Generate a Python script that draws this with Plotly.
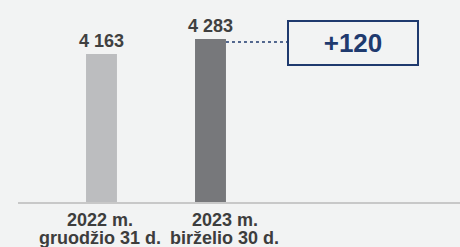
import plotly.graph_objects as go

categories_year = ["2022 m.", "2023 m."]
categories_date = ["gruodžio 31 d.", "birželio 30 d."]
values = [4163, 4283]
value_labels = ["4 163", "4 283"]
bar_colors = ["#bcbdbf", "#77787b"]

x_pos = [0, 1]
bar_w = 0.284
label_xshift = [-1, 14]
diff = values[1] - values[0]

fig = go.Figure()
fig.add_trace(go.Bar(
    x=x_pos, y=values, width=bar_w, marker=dict(color=bar_colors, line=dict(width=0)),
    text=value_labels, textposition="outside", cliponaxis=False, constraintext="none",
    textfont=dict(family="Liberation Sans, Arial", size=18, color="#404040", weight="bold"),
    hoverinfo="skip",
))

# dotted connector from bar 2 to the difference box
fig.add_trace(go.Scatter(
    x=[x_pos[1] + bar_w / 2, 1.71], y=[values[1] - 24, values[1] - 24], mode="lines",
    line=dict(color="#1f3a6e", width=1.5, dash="dot"), hoverinfo="skip",
))

fig.add_annotation(
    x=0.758, xref="paper", y=values[1] - 24, yref="y", yshift=-1,
    text=f"<b>+{diff}</b>", showarrow=False,
    font=dict(family="Liberation Sans, Arial", size=26, color="#1f3a6e"),
    bordercolor="#1f3a6e", borderwidth=2, width=126, height=40,
    xanchor="center", yanchor="middle",
)

for i in range(len(x_pos)):
    fig.add_annotation(x=x_pos[i], xref="x", y=0, yref="paper", yshift=-18,
                       xshift=label_xshift[i],
                       text=f"<b>{categories_year[i]}</b>", showarrow=False,
                       xanchor="center", yanchor="middle",
                       font=dict(family="Liberation Sans, Arial", size=18, color="#3d3d3d"))
    fig.add_annotation(x=x_pos[i], xref="x", y=0, yref="paper", yshift=-36,
                       xshift=label_xshift[i],
                       text=f"<b>{categories_date[i]}</b>", showarrow=False,
                       xanchor="center", yanchor="middle",
                       font=dict(family="Liberation Sans, Arial", size=18, color="#3d3d3d"))

fig.update_layout(
    width=460, height=247, margin=dict(l=18, r=0, t=0, b=45),
    paper_bgcolor="#f2f3f3", plot_bgcolor="#f2f3f3",
    showlegend=False,
    xaxis=dict(range=[-0.766, 3.289], showgrid=False, zeroline=False,
               showticklabels=False, ticks="", showline=True,
               linecolor="#c8c8c8", linewidth=2, fixedrange=True),
    yaxis=dict(range=[2979, 4595], showgrid=False, zeroline=False,
               showticklabels=False, ticks="", showline=False, fixedrange=True),
)

fig.write_html("out.html", config={"displayModeBar": False},
               post_script="document.body.style.margin='0';document.body.style.background='#f2f3f3';")
